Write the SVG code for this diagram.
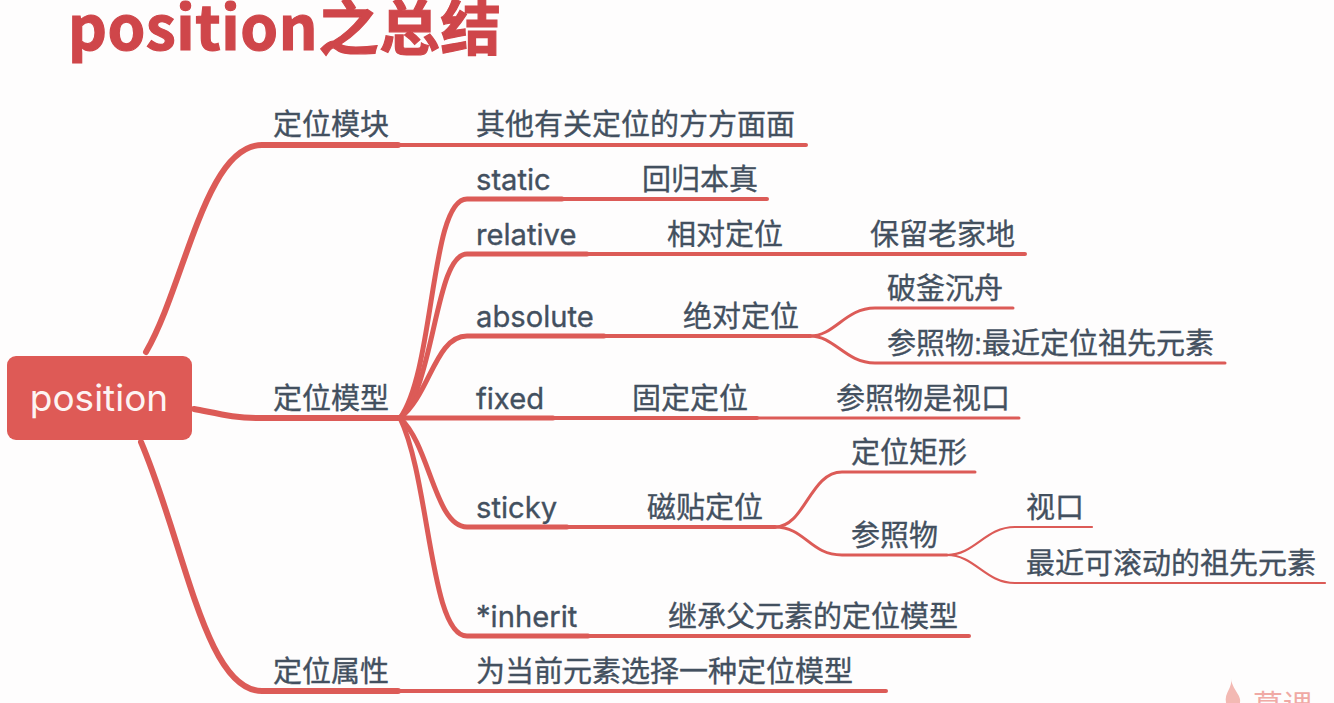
<svg xmlns="http://www.w3.org/2000/svg" width="1334" height="703" viewBox="0 0 1334 703">
<style>
text{font-family:"Liberation Sans","Noto Sans CJK SC",sans-serif;font-size:29px;fill:#43505f;stroke:#43505f;stroke-width:.35}
.l{font-family:"Inter","Noto Sans",sans-serif;font-size:29.2px}
.c{fill:none;stroke:#dc5b57;stroke-linecap:round}
.a{stroke-width:6}.b{stroke-width:5}.d{stroke-width:4}.e{stroke-width:3}
</style>
<rect width="1334" height="703" fill="#fefdfd"/>
<text x="68" y="50" style="font-size:60.5px;font-weight:700;fill:#cf464a;stroke:#cf464a;stroke-width:1.2;letter-spacing:.6px;font-family:'Noto Sans CJK SC','Liberation Sans',sans-serif">position之总结</text>
<g id="connectors">
<path class="c a" d="M146 352C185 285 205 145 262 145H398"/>
<path class="c d" d="M398 145H806"/>
<path class="c a" d="M194 409C220 414 235 418 258 418H400"/>
<path class="c a" d="M141 442C185 545 205 691 262 691H398"/>
<path class="c d" d="M398 691H886"/>
<path class="c b" d="M400 418C435 370 430 199 467 199H562"/>
<path class="c d" d="M562 199H767"/>
<path class="c b" d="M400 418C435 385 435 254 467 254H587"/>
<path class="c d" d="M587 254H1025"/>
<path class="c b" d="M400 418C430 395 435 336 467 336H604"/>
<path class="c d" d="M604 336H810"/>
<path class="c b" d="M400 418H553"/>
<path class="c d" d="M553 418H757"/>
<path class="e c" d="M757 418H1019"/>
<path class="c b" d="M400 418C430 445 435 527 467 527H567"/>
<path class="c d" d="M567 527H775"/>
<path class="c b" d="M400 418C430 480 430 636 467 636H588"/>
<path class="c d" d="M588 636H969"/>
<path class="c e" d="M810 336C835 336 845 308 875 308H1013"/>
<path class="c e" d="M810 336C835 336 845 363 875 363H1225"/>
<path class="c e" d="M775 527C805 527 810 472 842 472H975"/>
<path class="c e" d="M775 527C805 527 810 555 842 555H947"/>
<path class="c" stroke-width="2.2" d="M947 555C975 555 985 527 1015 527H1092"/>
<path class="c" stroke-width="2.2" d="M947 555C975 555 985 583 1015 583H1325"/>
</g>
<g id="root"><rect x="7" y="356" width="185" height="84" rx="9" fill="#de5a56"/><text class="l" x="99" y="411" text-anchor="middle" style="font-size:37px;fill:#fdf4f3;stroke:none">position</text></g>
<g id="n1"><text x="273" y="135">定位模块</text></g>
<g id="n2"><text x="476" y="135">其他有关定位的方方面面</text></g>
<g id="n3"><text class="l" x="476" y="190">static</text></g>
<g id="n4"><text x="642" y="190">回归本真</text></g>
<g id="n5"><text class="l" x="476" y="245">relative</text></g>
<g id="n6"><text x="667" y="245">相对定位</text></g>
<g id="n7"><text x="870" y="245">保留老家地</text></g>
<g id="n8"><text class="l" x="476" y="327">absolute</text></g>
<g id="n9"><text x="683" y="327">绝对定位</text></g>
<g id="n10"><text x="887" y="299">破釜沉舟</text></g>
<g id="n11"><text x="887" y="354">参照物:最近定位祖先元素</text></g>
<g id="n12"><text x="273" y="409">定位模型</text></g>
<g id="n13"><text class="l" x="476" y="409">fixed</text></g>
<g id="n14"><text x="632" y="409">固定定位</text></g>
<g id="n15"><text x="836" y="409">参照物是视口</text></g>
<g id="n16"><text class="l" x="476" y="518">sticky</text></g>
<g id="n17"><text x="647" y="518">磁贴定位</text></g>
<g id="n18"><text x="851" y="463">定位矩形</text></g>
<g id="n19"><text x="851" y="546">参照物</text></g>
<g id="n20"><text x="1026" y="518">视口</text></g>
<g id="n21"><text x="1026" y="574">最近可滚动的祖先元素</text></g>
<g id="n22"><text class="l" x="476" y="627">*inherit</text></g>
<g id="n23"><text x="668" y="627">继承父元素的定位模型</text></g>
<g id="n24"><text x="273" y="682">定位属性</text></g>
<g id="n25"><text x="476" y="682">为当前元素选择一种定位模型</text></g>
<g id="watermark"><path d="M1231 678C1233 688 1224 692 1226 703H1240C1242 695 1232 690 1231 678Z" fill="#f3b9b3"/><text x="1253" y="716" style="font-size:30px;fill:#f0aaa5;stroke:none">慕课</text></g>
</svg>
